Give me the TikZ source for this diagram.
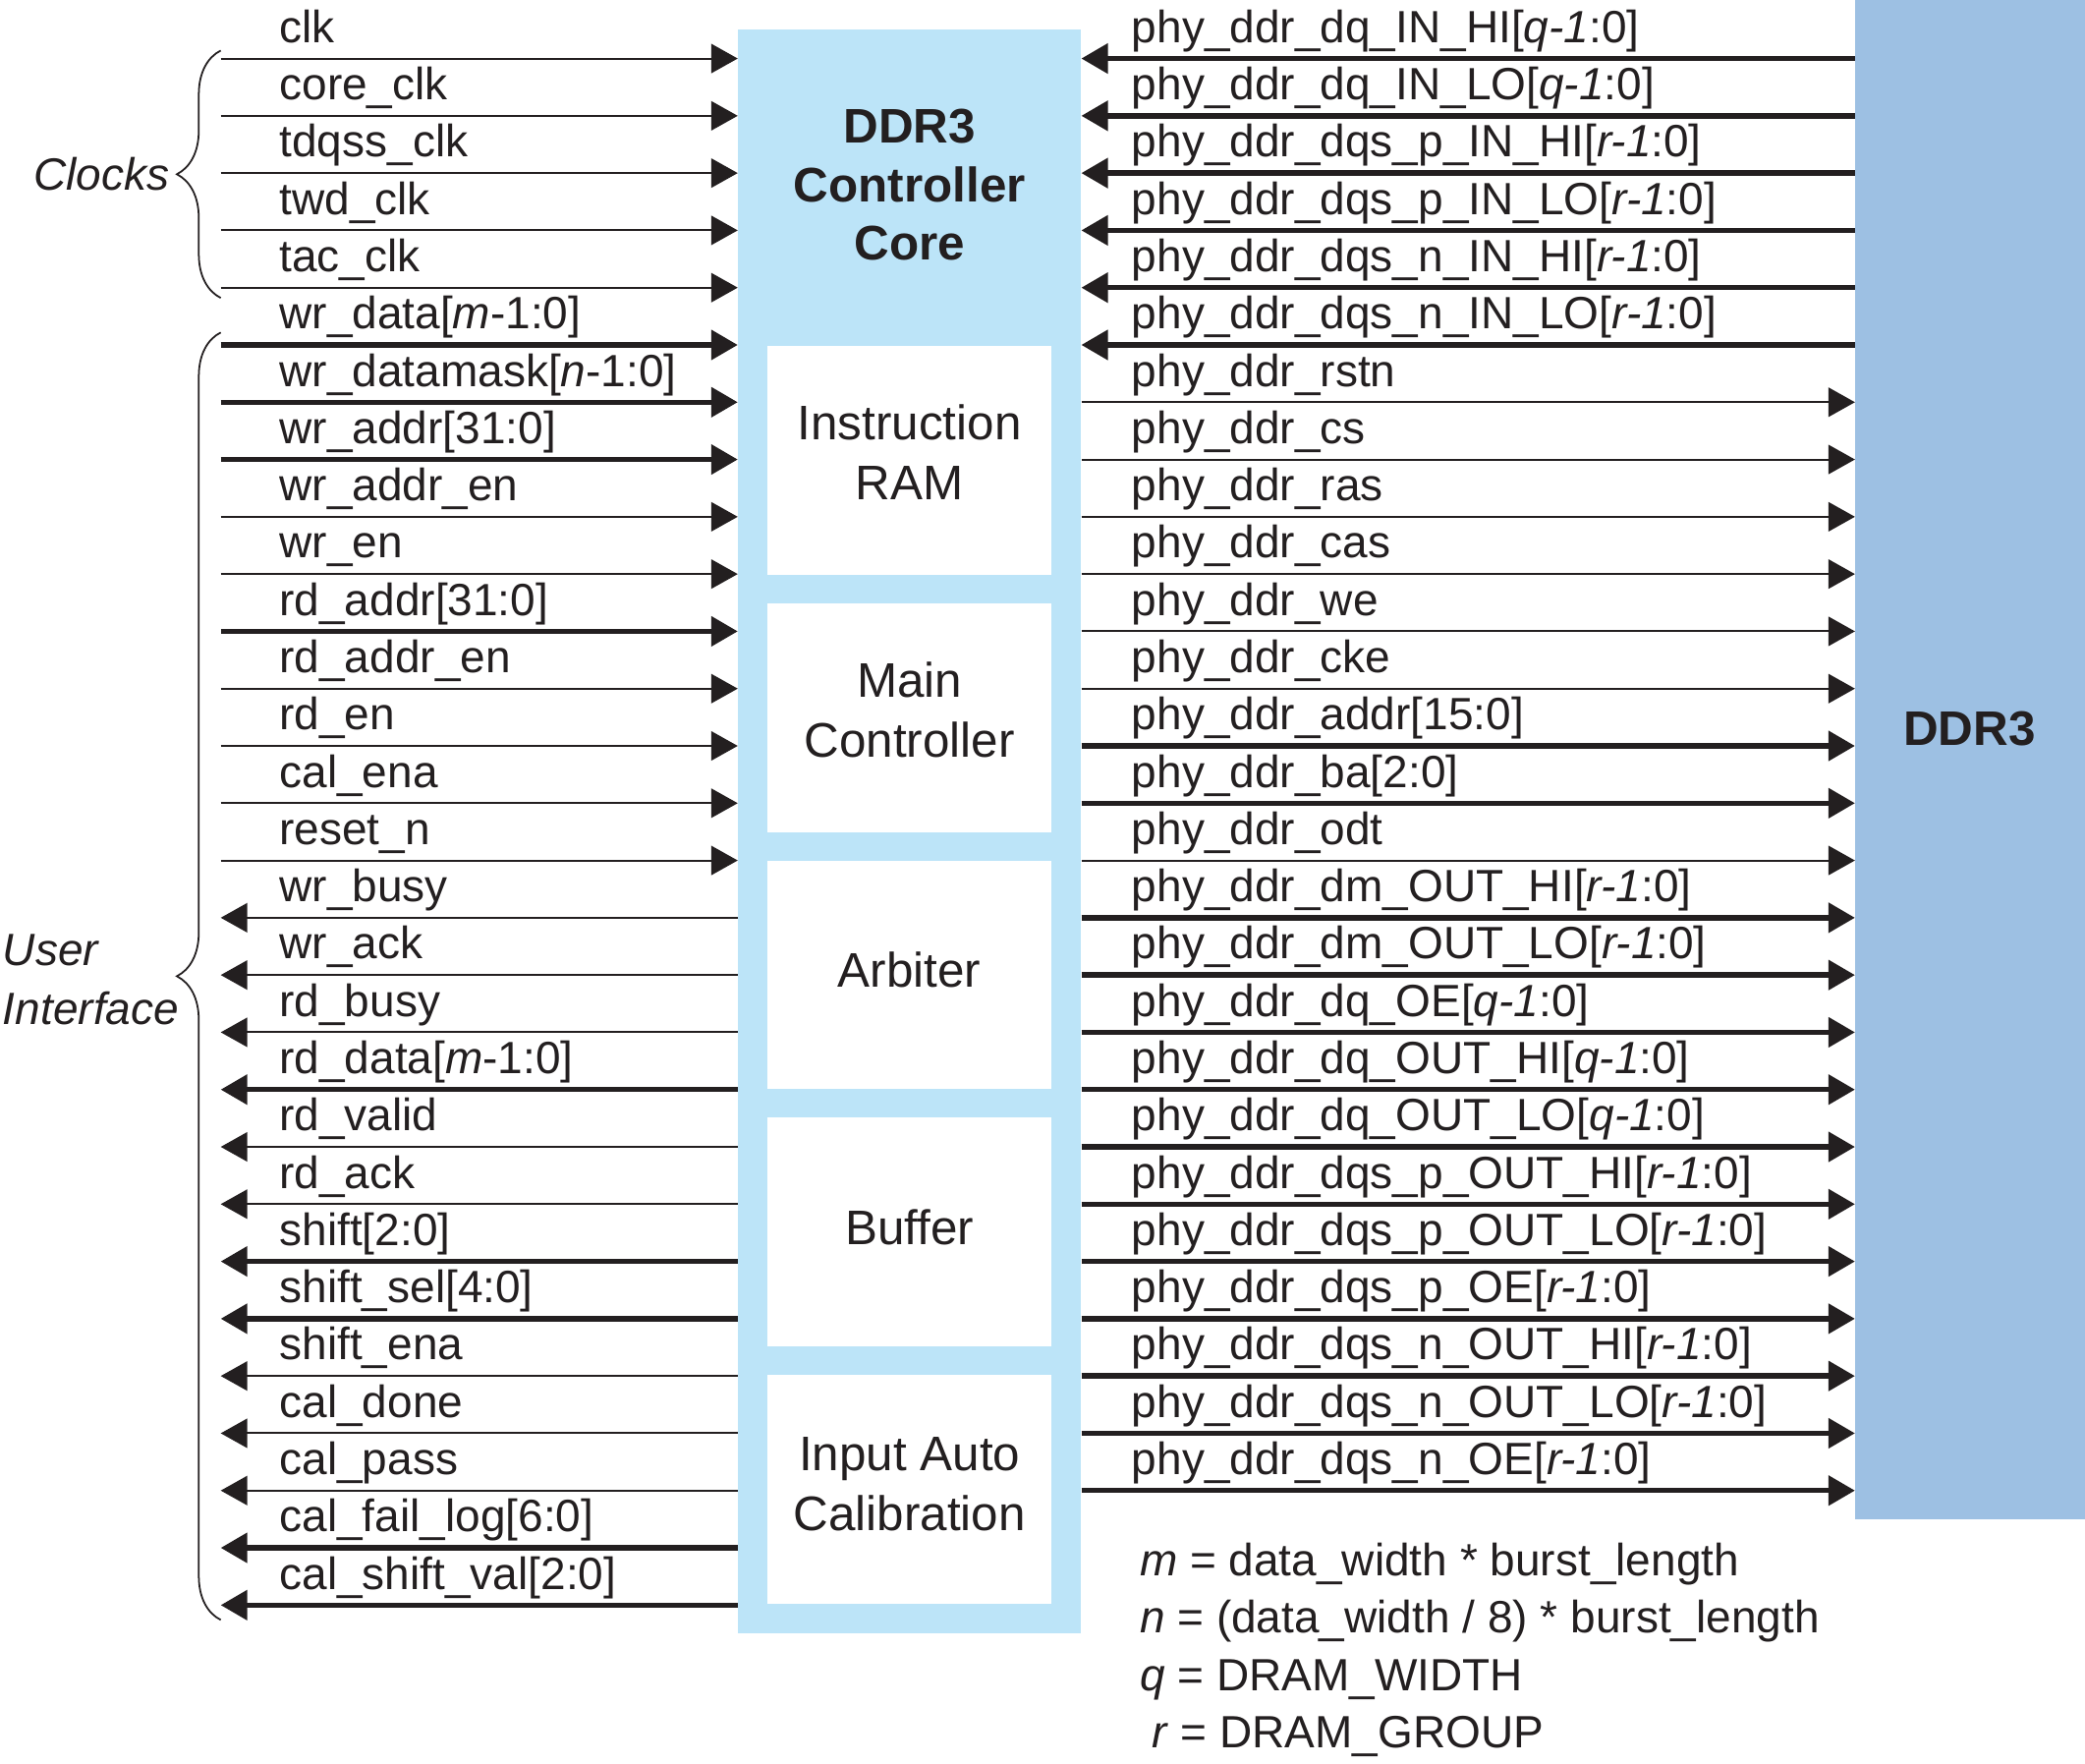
\documentclass[tikz,border=0pt]{standalone}
\usepackage{fontspec}
\setmainfont{Liberation Sans}
\usetikzlibrary{arrows.meta,decorations.pathreplacing}
\definecolor{ink}{HTML}{231F20}
\definecolor{coreblue}{HTML}{BCE4F8}
\definecolor{ddrblue}{HTML}{9DC0E3}
\begin{document}
\begin{tikzpicture}[x=1pt,y=-1pt,
  sig/.style={font=\fontsize{34}{40}\selectfont, text=ink, inner sep=0pt, anchor=base west},
  grp/.style={font=\fontsize{34}{40}\selectfont\itshape, text=ink, inner sep=0pt, anchor=base west},
  blk/.style={font=\fontsize{36.5}{45}\selectfont, text=ink, align=center, inner sep=0pt},
  blkb/.style={font=\fontsize{36.5}{44}\selectfont\bfseries, text=ink, align=center, inner sep=0pt},
  sigthin/.style={draw=ink, line width=1.5pt},
  sigbus/.style={draw=ink, line width=4pt},
  fwd/.style={-{Triangle[length=20pt,width=22pt]}},
  bwd/.style={{Triangle[length=20pt,width=22pt]}-},
  wbox/.style={fill=white, draw=none, minimum width=214pt, minimum height=172pt, inner sep=0pt},
  brc/.style={draw=ink, line width=1.3pt, decorate, decoration={brace, amplitude=33pt}}
]
\useasboundingbox (0,0) rectangle (1568,1326);

% blocks
\node[fill=coreblue, draw=none, minimum width=258pt, minimum height=1206pt, inner sep=0pt] (core) at (684,625) {};
\node[fill=ddrblue, draw=none, minimum width=173pt, minimum height=1142pt, inner sep=0pt] (ddr) at (1481.5,571) {};
\node[blkb] (corelbl) at (684,139) {DDR3\\Controller\\Core};
\node[blkb] (ddrlbl) at (1481,548) {DDR3};

\foreach \t/\s [count=\k from 0] in {{Instruction\\RAM}/6, {Main\\Controller}/6, Arbiter/4, Buffer/4, {Input Auto\\Calibration}/4} {
  \node[wbox] (box\k) at (684,{346+193.5*\k}) {};
  \node[blk] (boxt\k) at ([yshift=\s pt]box\k.center) {\t};
}

% left signals
\foreach \t/\d/\w [count=\i from 0] in {
  clk/fwd/sigthin,
  core\_clk/fwd/sigthin,
  tdqss\_clk/fwd/sigthin,
  twd\_clk/fwd/sigthin,
  tac\_clk/fwd/sigthin,
  {wr\_data[\textit{m}-1:0]}/fwd/sigbus,
  {wr\_datamask[\textit{n}-1:0]}/fwd/sigbus,
  {wr\_addr[31:0]}/fwd/sigbus,
  wr\_addr\_en/fwd/sigthin,
  wr\_en/fwd/sigthin,
  {rd\_addr[31:0]}/fwd/sigbus,
  rd\_addr\_en/fwd/sigthin,
  rd\_en/fwd/sigthin,
  cal\_ena/fwd/sigthin,
  reset\_n/fwd/sigthin,
  wr\_busy/bwd/sigthin,
  wr\_ack/bwd/sigthin,
  rd\_busy/bwd/sigthin,
  {rd\_data[\textit{m}-1:0]}/bwd/sigbus,
  rd\_valid/bwd/sigthin,
  rd\_ack/bwd/sigthin,
  {shift[2:0]}/bwd/sigbus,
  {shift\_sel[4:0]}/bwd/sigbus,
  shift\_ena/bwd/sigthin,
  cal\_done/bwd/sigthin,
  cal\_pass/bwd/sigthin,
  {cal\_fail\_log[6:0]}/bwd/sigbus,
  {cal\_shift\_val[2:0]}/bwd/sigbus} {
  \pgfmathsetmacro\yy{44+43.07*\i}
  \coordinate (L\i) at (166,\yy);
  \node[sig] (LT\i) at (210,\yy-12) {\t};
  \draw[\w,\d] (L\i) -- (core.west |- L\i);
}

% right signals
\foreach \t/\d/\w [count=\i from 0] in {
  {phy\_ddr\_dq\_IN\_HI[\textit{q-1}:0]}/bwd/sigbus,
  {phy\_ddr\_dq\_IN\_LO[\textit{q-1}:0]}/bwd/sigbus,
  {phy\_ddr\_dqs\_p\_IN\_HI[\textit{r-1}:0]}/bwd/sigbus,
  {phy\_ddr\_dqs\_p\_IN\_LO[\textit{r-1}:0]}/bwd/sigbus,
  {phy\_ddr\_dqs\_n\_IN\_HI[\textit{r-1}:0]}/bwd/sigbus,
  {phy\_ddr\_dqs\_n\_IN\_LO[\textit{r-1}:0]}/bwd/sigbus,
  phy\_ddr\_rstn/fwd/sigthin,
  phy\_ddr\_cs/fwd/sigthin,
  phy\_ddr\_ras/fwd/sigthin,
  phy\_ddr\_cas/fwd/sigthin,
  phy\_ddr\_we/fwd/sigthin,
  phy\_ddr\_cke/fwd/sigthin,
  {phy\_ddr\_addr[15:0]}/fwd/sigbus,
  {phy\_ddr\_ba[2:0]}/fwd/sigbus,
  phy\_ddr\_odt/fwd/sigthin,
  {phy\_ddr\_dm\_OUT\_HI[\textit{r-1}:0]}/fwd/sigbus,
  {phy\_ddr\_dm\_OUT\_LO[\textit{r-1}:0]}/fwd/sigbus,
  {phy\_ddr\_dq\_OE[\textit{q-1}:0]}/fwd/sigbus,
  {phy\_ddr\_dq\_OUT\_HI[\textit{q-1}:0]}/fwd/sigbus,
  {phy\_ddr\_dq\_OUT\_LO[\textit{q-1}:0]}/fwd/sigbus,
  {phy\_ddr\_dqs\_p\_OUT\_HI[\textit{r-1}:0]}/fwd/sigbus,
  {phy\_ddr\_dqs\_p\_OUT\_LO[\textit{r-1}:0]}/fwd/sigbus,
  {phy\_ddr\_dqs\_p\_OE[\textit{r-1}:0]}/fwd/sigbus,
  {phy\_ddr\_dqs\_n\_OUT\_HI[\textit{r-1}:0]}/fwd/sigbus,
  {phy\_ddr\_dqs\_n\_OUT\_LO[\textit{r-1}:0]}/fwd/sigbus,
  {phy\_ddr\_dqs\_n\_OE[\textit{r-1}:0]}/fwd/sigbus} {
  \pgfmathsetmacro\yy{44+43.07*\i}
  \coordinate (R\i) at (1395,\yy);
  \node[sig] (RT\i) at (851,\yy-12) {\t};
  \draw[\w,\d] (core.east |- R\i) -- (R\i);
}

% group braces and labels
\coordinate (cbt) at (166,38);
\coordinate (cbb) at (166,224);
\draw[brc] (cbb) -- (cbt);
\coordinate (ubt) at (166,250);
\coordinate (ubb) at (166,1218);
\draw[brc] (ubb) -- (ubt);
\node[grp] (clocks) at (25,143) {Clocks};
\node[grp] (user) at (2,726) {User};
\node[grp] (iface) at (2,770) {Interface};

% legend
\node[sig] (leg1) at (857,1185) {\textit{m} = data\_width * burst\_length};
\node[sig] (leg2) at (857,1228) {\textit{n} = (data\_width / 8) * burst\_length};
\node[sig] (leg3) at (857,1271) {\textit{q} = DRAM\_WIDTH};
\node[sig] (leg4) at (866,1314) {\textit{r} = DRAM\_GROUP};
\end{tikzpicture}
\end{document}
